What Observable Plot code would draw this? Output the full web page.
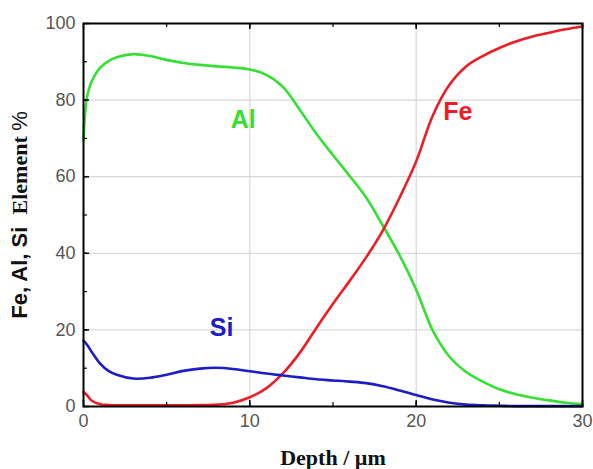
<!DOCTYPE html>
<html>
<head>
<meta charset="utf-8">
<script src="https://cdn.jsdelivr.net/npm/d3@7"></script>
<script src="https://cdn.jsdelivr.net/npm/@observablehq/plot@0.6"></script>
<style>
  html, body { margin: 0; padding: 0; background: #fff; }
</style>
</head>
<body>
<div id="chart"></div>
<script>
// Depth (µm)
const depth = [0, 0.2, 0.5, 1, 1.5, 2, 3, 4, 5, 6, 7, 8, 9, 10, 11, 12, 13, 14, 15, 16, 17, 18, 19, 20, 21, 22, 23, 24, 25, 26, 27, 28, 29, 30];
// Element % series
const alValues = [69.5, 80.5, 85, 88.5, 90.2, 91.2, 92, 91.5, 90.5, 89.7, 89.2, 88.8, 88.5, 88, 86.6, 83.4, 77.5, 71.2, 65.6, 60.2, 54.5, 47.2, 39.5, 30.5, 19.8, 13, 9, 6.5, 4.5, 3.2, 2.3, 1.6, 1, 0.6];
const feValues = [3.8, 3, 1.5, 0.6, 0.4, 0.3, 0.3, 0.3, 0.3, 0.3, 0.35, 0.5, 1, 2.4, 4.8, 8.7, 14, 20.5, 26.8, 32.8, 39, 46, 54.5, 64, 76, 84, 88.8, 91.5, 93.6, 95.3, 96.6, 97.6, 98.5, 99.2];
const siValues = [17.2, 16.2, 14.2, 11.2, 9.3, 8.3, 7.3, 7.5, 8.3, 9.3, 9.9, 10.1, 9.8, 9.2, 8.6, 8.1, 7.6, 7.1, 6.8, 6.5, 6.1, 5.3, 4.2, 3, 1.8, 1, 0.5, 0.3, 0.2, 0.1, 0.1, 0.1, 0.1, 0.1];

const seriesNames = ["Al", "Fe", "Si"];
const seriesColors = ["#33e033", "#ee1c25", "#1c1cc8"];
// Series label anchor positions (data coordinates)
const labelX = [9.6, 22.5, 8.3];
const labelY = [74.7, 76.8, 20.4];

const xTicks = [0, 10, 20, 30];
const xMinor = [5, 10, 15, 20, 25];
const yTicks = [0, 20, 40, 60, 80, 100];
const yMinor = [10, 20, 30, 40, 50, 60, 70, 80, 90];
const xGrid = [10, 20];
const yGrid = [20, 40, 60, 80];

const W = 593, H = 469;
const mL = 83, mR = 11, mT = 23, mB = 63;
const innerW = W - mL - mR, innerH = H - mT - mB;

const rows = [];
[alValues, feValues, siValues].forEach((vals, i) => {
  vals.forEach((v, j) => rows.push({series: seriesNames[i], depth: depth[j], value: v}));
});
const labels = seriesNames.map((s, i) => ({series: s, x: labelX[i], y: labelY[i]}));

const chart = Plot.plot({
  width: W, height: H,
  marginLeft: mL, marginRight: mR, marginTop: mT, marginBottom: mB,
  style: {fontFamily: "Liberation Sans, Arial, sans-serif", background: "#fff"},
  x: {domain: [0, 30]},
  y: {domain: [0, 100]},
  color: {domain: seriesNames, range: seriesColors},
  marks: [
    Plot.gridX(xGrid, {stroke: "#cfcfcf", strokeOpacity: 1, strokeWidth: 1}),
    Plot.gridY(yGrid, {stroke: "#cfcfcf", strokeOpacity: 1, strokeWidth: 1}),
    Plot.line(rows, {x: "depth", y: "value", z: "series", stroke: "series", strokeWidth: 2.6, curve: "catmull-rom"}),
    Plot.text(labels, {x: "x", y: "y", text: "series", fill: "series", fontSize: 25, fontWeight: "bold"}),
    // inward ticks
    Plot.tickY(yTicks, {y: d => d, insetRight: innerW - 6, stroke: "black", strokeWidth: 1.5}),
    Plot.tickY(yMinor, {y: d => d, insetRight: innerW - 4, stroke: "black", strokeWidth: 1.2}),
    Plot.tickX(xTicks, {x: d => d, insetTop: innerH - 6, stroke: "black", strokeWidth: 1.5}),
    Plot.tickX(xTicks, {x: d => d, insetBottom: innerH - 6, stroke: "black", strokeWidth: 1.5}),
    Plot.tickX(xMinor, {x: d => d, insetTop: innerH - 4, stroke: "black", strokeWidth: 1.2}),
    Plot.tickX(xMinor, {x: d => d, insetBottom: innerH - 4, stroke: "black", strokeWidth: 1.2}),
    Plot.frame({stroke: "black", strokeWidth: 2}),
    Plot.axisX(xTicks, {tickSize: 0, tickPadding: 8, fontSize: 18, fill: "#555",
      label: "Depth / µm", labelAnchor: "center", labelArrow: "none", labelOffset: 58}),
    Plot.axisY(yTicks, {tickSize: 0, tickPadding: 8, fontSize: 18, fill: "#555",
      label: "Fe, Al, Si  Element %", labelAnchor: "center", labelArrow: "none", labelOffset: 72})
  ]
});

// style axis titles
d3.select(chart).selectAll("g[aria-label='x-axis label'] text")
  .attr("fill", "#111").style("font-family", "Liberation Serif, Times New Roman, serif")
  .style("font-weight", "bold").style("font-size", "22px");
const yl = d3.select(chart).selectAll("g[aria-label='y-axis label'] text")
  .attr("fill", "#111").style("font-weight", "bold").style("font-size", "22px");
yl.each(function() {
  const t = d3.select(this);
  t.text(null);
  t.append("tspan").text("Fe, Al, Si  ");
  t.append("tspan").style("font-family", "Liberation Serif, Times New Roman, serif").text("Element ");
  t.append("tspan").style("font-weight", "normal").text("%");
});

document.getElementById("chart").appendChild(chart);
</script>
</body>
</html>
